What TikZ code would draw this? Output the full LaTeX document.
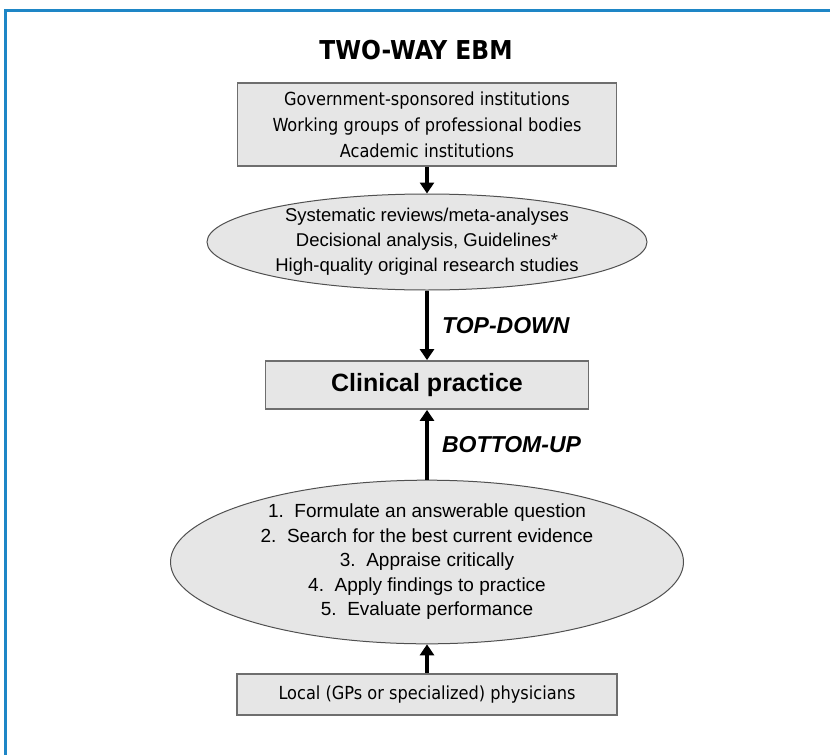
\documentclass[tikz,border=0pt]{standalone}
\usepackage{fontspec}
\setmainfont{Liberation Sans}
\newfontfamily\tahoma{DejaVu Sans Condensed}
\usepackage{xcolor}
\usetikzlibrary{shapes.geometric,arrows.meta}

\definecolor{frameblue}{HTML}{1E86C6}
\definecolor{boxfill}{HTML}{E6E6E6}
\definecolor{boxline}{HTML}{6E6E6E}
\definecolor{ovalline}{HTML}{505050}

\begin{document}
\begin{tikzpicture}
  [
    x=1pt, y=-1pt,
    >={Triangle[length=11pt,width=14pt]},
    box/.style  = {draw=boxline, fill=boxfill, line width=1.8pt, inner sep=0pt, align=center},
    oval/.style = {ellipse, draw=ovalline, fill=boxfill, line width=1pt, inner sep=0pt, align=center},
    flow/.style = {->, line width=3.6pt},
    way/.style  = {font=\fontsize{23}{26}\selectfont\bfseries\itshape, anchor=west, xshift=10pt},
  ]

%Page size and the blue frame
\useasboundingbox (0,0) rectangle (830,755);
\draw[frameblue, line width=3pt] (5,755) |- (830,10.5);

%Centre line of the flow
\def \xc{427}

\node[font=\tahoma\bfseries\fontsize{26}{30}\selectfont] (title) at (416,50) {TWO-WAY EBM};

%Top-down side
\node[box, minimum width=379pt, minimum height=83pt, font=\tahoma\fontsize{18}{26}\selectfont]
  (sources) at (\xc,124.5)
  {Government-sponsored institutions\\ Working groups of professional bodies\\ Academic institutions};

\node[oval, minimum width=440pt, minimum height=96pt, font=\fontsize{18.5}{25}\selectfont]
  (evidence) at (\xc,242)
  {Systematic reviews/meta-analyses\\ Decisional analysis, Guidelines*\\ High-quality original research studies};

%Practice in the middle
\node[box, minimum width=323pt, minimum height=48pt, font=\bfseries\fontsize{25}{28}\selectfont]
  (practice) at (\xc,385) {Clinical practice};

%Bottom-up side
\node[oval, minimum width=513pt, minimum height=161pt, font=\fontsize{19}{24.5}\selectfont]
  (steps) at (\xc,562)
  {1.\ \ Formulate an answerable question\\ 2.\ \ Search for the best current evidence\\
   3.\ \ Appraise critically\\ 4.\ \ Apply findings to practice\\ 5.\ \ Evaluate performance};

\node[box, minimum width=380pt, minimum height=41pt, font=\tahoma\fontsize{18}{20}\selectfont]
  (local) at (\xc,694.5) {Local (GPs or specialized) physicians};

%Connectors
\draw[flow] (sources) -- (evidence);
\draw[flow] (evidence) -- node[way] {TOP-DOWN} (practice);
\draw[flow] (steps) -- node[way] {BOTTOM-UP} (practice);
\draw[flow] (local) -- (steps);
\end{tikzpicture}
\end{document}
